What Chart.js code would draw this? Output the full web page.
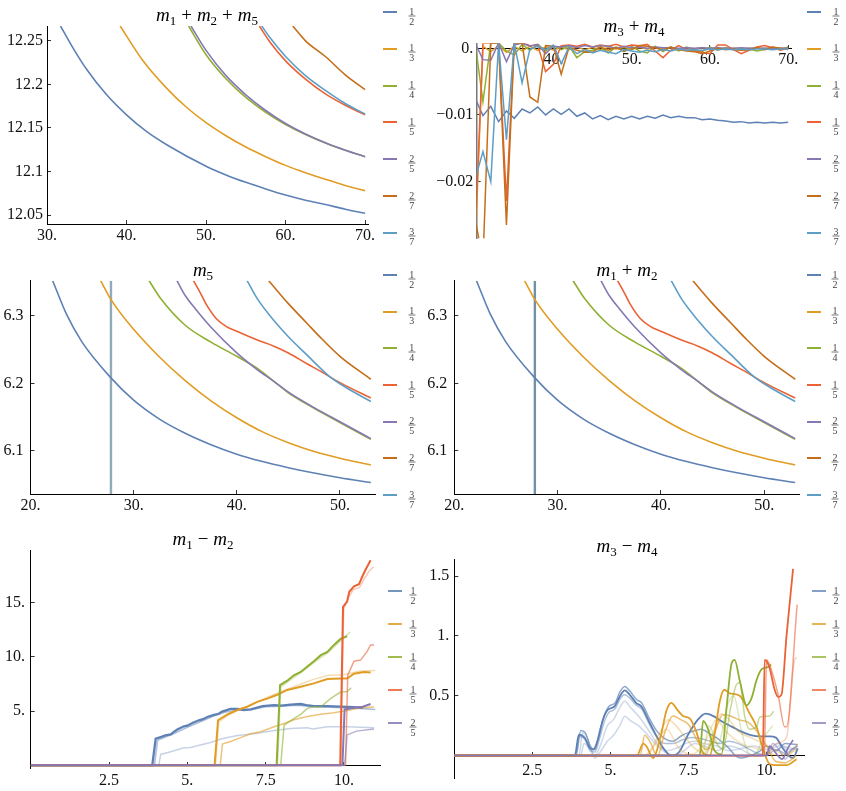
<!DOCTYPE html>
<html>
<head>
<meta charset="utf-8">
<script src="https://cdn.jsdelivr.net/npm/chart.js@4.4.0/dist/chart.umd.min.js"></script>
<style>
  html, body { margin: 0; padding: 0; background: #fff; }
  #page { position: relative; width: 846px; height: 791px; overflow: hidden; font-family: "Liberation Serif", serif; }
  canvas { position: absolute; }
  .title { position: absolute; transform: translate(-50%, -50%); font-size: 19px; white-space: nowrap; color: #000; line-height: 22px; }
  .title sub { font-size: 13px; vertical-align: -4px; line-height: 0; }
  .title .op { margin: 0 5px; }
  .key { position: absolute; width: 14px; }
  .frac { position: absolute; transform: translate(-50%, -50%); font-size: 10px; line-height: 9px; color: #444; text-align: center; }
  .frac span { display: block; padding: 0 1px; }
  .frac span:first-child { border-bottom: 1px solid #777; }
</style>
</head>
<body>
<div id="page">
  <canvas id="c1" width="423" height="255" style="left:0;top:0"></canvas>
  <canvas id="c2" width="423" height="255" style="left:423px;top:0"></canvas>
  <canvas id="c3" width="423" height="265" style="left:0;top:255px"></canvas>
  <canvas id="c4" width="423" height="265" style="left:423px;top:255px"></canvas>
  <canvas id="c5" width="423" height="271" style="left:0;top:520px"></canvas>
  <canvas id="c6" width="423" height="271" style="left:423px;top:520px"></canvas>

  <div class="title" style="left:207px;top:15px"><i>m</i><sub>1</sub><span class="op">+</span><i>m</i><sub>2</sub><span class="op">+</span><i>m</i><sub>5</sub></div>
  <div class="title" style="left:634px;top:26px"><i>m</i><sub>3</sub><span class="op">+</span><i>m</i><sub>4</sub></div>
  <div class="title" style="left:203px;top:270px"><i>m</i><sub>5</sub></div>
  <div class="title" style="left:627px;top:270px"><i>m</i><sub>1</sub><span class="op">+</span><i>m</i><sub>2</sub></div>
  <div class="title" style="left:203px;top:539px"><i>m</i><sub>1</sub><span class="op">&minus;</span><i>m</i><sub>2</sub></div>
  <div class="title" style="left:627px;top:546px"><i>m</i><sub>3</sub><span class="op">&minus;</span><i>m</i><sub>4</sub></div>
</div>
<script>
// series labels (legend fractions) and colours
const fracs = [['1','2'], ['1','3'], ['1','4'], ['1','5'], ['2','5'], ['2','7'], ['3','7']];
const palette = ['#5E81B5', '#E19C24', '#8FB032', '#EB6235', '#8778B3', '#C56E1A', '#5D9EC7'];

// ---- m1 + m2 + m5 : [x, y] points
const tot12 = [[31.7,12.267],[33,12.246],[35,12.217],[37.5,12.188],[40,12.165],[42.5,12.146],[45,12.131],[50,12.106],[52.5,12.096],[55,12.0875],[57.5,12.080],[60,12.073],[62.5,12.067],[65,12.062],[67.5,12.0567],[70,12.052]];
const tot13 = [[39.2,12.267],[42,12.228],[45,12.196],[47.5,12.174],[50,12.156],[52.5,12.141],[55,12.128],[57.5,12.117],[60,12.107],[62.5,12.0986],[65,12.091],[67.5,12.084],[70,12.078]];
const tot14 = [[47.8,12.267],[50,12.234],[52.5,12.2065],[55,12.185],[57.5,12.168],[60,12.154],[62.5,12.1424],[65,12.1326],[67.5,12.1243],[70,12.117]];
const tot15 = [[56.7,12.267],[58,12.249],[60,12.227],[62.5,12.206],[65,12.189],[67.5,12.176],[70,12.165]];
const tot25 = [[48.1,12.267],[50,12.239],[52.5,12.210],[55,12.188],[57.5,12.170],[60,12.155],[62.5,12.143],[65,12.133],[67.5,12.1245],[70,12.117]];
const tot27 = [[60.9,12.267],[62.5,12.250],[65,12.232],[67.5,12.211],[70,12.194]];
const tot37 = [[57.0,12.267],[58,12.254],[60,12.232],[62.5,12.210],[65,12.193],[67.5,12.178],[70,12.166]];

// ---- m3 + m4 : one value per integer x
const m34x = [30,31,32,33,34,35,36,37,38,39,40,41,42,43,44,45,46,47,48,49,50,51,52,53,54,55,56,57,58,59,60,61,62,63,64,65,66,67,68,69,70];
const m34_12 = [-0.0075,-0.0101,-0.0087,-0.0110,-0.0094,-0.0105,-0.0091,-0.0097,-0.0088,-0.0100,
  -0.0091,-0.0099,-0.0091,-0.0102,-0.0097,-0.0106,-0.0101,-0.0107,-0.0102,-0.0106,
  -0.0102,-0.0106,-0.0102,-0.0105,-0.0100,-0.0104,-0.0102,-0.0104,-0.0104,-0.0107,
  -0.0106,-0.0108,-0.0109,-0.0111,-0.0110,-0.0112,-0.0111,-0.0112,-0.0111,-0.0112,-0.0111];
const m34_13 = [-0.0300,0.0003,-0.0005,0.0004,-0.0006,0.0003,-0.0004,0.0003,-0.0003,0.0002,
  -0.0003,0.0002,-0.0002,0.0002,-0.0002,0.0001,-0.0002,0.0001,-0.0001,0.0001,
  -0.0001,0.0001,-0.0001,0.0001,-0.0001,0.0001,-0.0001,0.0001,-0.0001,0.0001,
  -0.0001,0.0000,-0.0001,0.0000,-0.0001,0.0000,0.0000,0.0000,0.0000,0.0000,0.0000];
const m34_14 = [0.0008,-0.0080,0.0008,0.0008,-0.0004,-0.0010,0.0006,-0.0003,0.0006,-0.0004,
  0.0004,-0.0002,0.0003,-0.0014,-0.0005,-0.0003,0.0002,-0.0007,0.0002,-0.0005,
  0.0003,-0.0004,-0.0007,0.0003,-0.0005,0.0002,-0.0004,0.0002,-0.0003,-0.0005,
  0.0002,-0.0003,0.0001,-0.0002,-0.0003,-0.0001,-0.0004,-0.0002,0.0002,-0.0002,0.0002];
const m34_15 = [-0.0280,0.0008,0.0008,0.0008,-0.0229,0.0008,0.0008,0.0004,0.0005,-0.0035,
  -0.0024,0.0004,0.0005,0.0003,0.0006,0.0002,0.0005,0.0003,0.0006,0.0002,
  0.0005,0.0004,0.0006,-0.0004,-0.0014,-0.0003,0.0004,-0.0002,-0.0004,-0.0006,
  -0.0008,0.0005,0.0005,-0.0002,-0.0008,-0.0003,0.0002,0.0004,0.0001,-0.0003,0.0000];
const m34_25 = [0.0008,-0.0017,-0.0018,0.0008,-0.0020,0.0005,0.0008,0.0003,0.0006,-0.0008,
  0.0003,0.0002,0.0004,0.0001,0.0004,0.0002,0.0004,0.0003,0.0000,0.0003,
  0.0001,0.0002,0.0000,0.0002,0.0001,0.0001,0.0000,0.0001,0.0000,0.0001,
  0.0000,0.0001,0.0000,0.0000,0.0001,0.0000,0.0000,0.0000,0.0000,0.0000,0.0000];
const m34_27 = [-0.0255,-0.0320,0.0008,0.0008,-0.0265,0.0008,0.0008,-0.0073,-0.0081,0.0004,
  0.0003,-0.0039,0.0002,-0.0003,-0.0006,-0.0006,0.0002,-0.0003,0.0001,-0.0004,
  -0.0002,0.0004,0.0003,0.0001,-0.0003,0.0002,-0.0002,-0.0004,-0.0005,-0.0008,
  -0.0004,0.0000,-0.0002,-0.0001,-0.0003,-0.0002,0.0001,-0.0002,0.0002,0.0000,-0.0002];
const m34_37 = [-0.0196,-0.0155,-0.0200,0.0008,-0.0137,0.0008,-0.0052,-0.0001,0.0003,-0.0002,
  0.0005,-0.0023,0.0002,-0.0008,-0.0002,-0.0007,-0.0003,-0.0006,-0.0008,-0.0002,
  -0.0004,-0.0006,-0.0003,-0.0005,-0.0002,-0.0004,-0.0001,-0.0003,-0.0002,-0.0003,
  -0.0001,-0.0002,-0.0001,-0.0002,-0.0001,-0.0002,-0.0001,-0.0001,-0.0002,-0.0001,-0.0001];

// ---- m5 (m1 + m2 shows the same curves)
const m5_12 = [[22.15,6.352],[23.5,6.302],[25,6.261],[27.8,6.208],[30,6.175],[32.5,6.147],[35,6.126],[37.5,6.109],[40,6.095],[42.5,6.084],[45,6.075],[47.5,6.067],[50,6.060],[53,6.053]];
const m5_13 = [[26.8,6.352],[27.8,6.324],[30,6.280],[32.5,6.239],[35,6.204],[37.5,6.174],[40,6.149],[42.5,6.128],[45,6.112],[47.5,6.099],[50,6.089],[53,6.079]];
const m5_14 = [[31.5,6.352],[32.6,6.326],[35,6.286],[37.5,6.261],[40,6.240],[42,6.222],[43.5,6.204],[45,6.186],[47.5,6.163],[50,6.142],[53,6.117]];
const m5_15 = [[35.8,6.352],[36.5,6.333],[37,6.318],[38,6.296],[39,6.284],[40,6.277],[42,6.264],[43.6,6.255],[45,6.245],[46.8,6.229],[48.1,6.218],[50,6.201],[53,6.178]];
const m5_25 = [[34.2,6.352],[35,6.330],[36,6.310],[37.5,6.283],[40,6.245],[42,6.220],[43.5,6.204],[45,6.187],[47.5,6.164],[50,6.143],[53,6.118]];
const m5_27 = [[43.1,6.352],[45,6.318],[46.8,6.289],[48.1,6.268],[50,6.240],[53,6.206]];
const m5_37 = [[41.0,6.352],[42,6.325],[43.6,6.293],[45,6.269],[46.8,6.242],[49,6.210],[51,6.190],[53,6.173]];
const m5Mark = [[27.8,6.036],[27.8,6.352]];

// ---- m1 - m2 (several runs per fraction: a, b, c)
const d12_12a = [[0,0],[3.88,0],[3.99,2.45],[4.15,2.6],[4.3,2.75],[4.47,2.85],[4.58,3.1],[4.68,3.3],[4.89,3.6],[5.0,3.65],[5.16,3.9],[5.37,4.15],[5.5,4.25],[5.64,4.45],[5.85,4.65],[6.0,4.75],[6.11,4.95],[6.38,5.2],[6.6,5.2],[6.8,5.1],[7.02,5.15],[7.2,5.3],[7.4,5.45],[7.77,5.55],[8.0,5.5],[8.3,5.6],[8.62,5.65],[8.8,5.55],[9.04,5.45],[9.47,5.45],[9.89,5.4],[10.32,5.35],[10.6,5.3]];
const d12_12b = [[0,0],[3.95,0],[4.05,2.3],[4.3,2.6],[4.6,2.95],[5.0,3.5],[5.4,4.0],[5.8,4.5],[6.2,4.9],[6.6,5.1],[7.0,5.1],[7.5,5.4],[8.0,5.45],[8.5,5.55],[9.0,5.4],[9.5,5.35],[10.0,5.3],[10.5,5.25],[11.0,5.15]];
const d12_12c = [[0,0],[4.09,0],[4.15,1.0],[4.47,1.25],[4.89,1.62],[5.1,1.65],[5.32,1.8],[5.74,2.1],[6.0,2.35],[6.17,2.5],[6.6,2.75],[7.13,2.9],[7.77,3.2],[8.3,3.4],[8.83,3.45],[9.0,3.35],[9.47,3.55],[10.1,3.55],[10.96,3.47]];
const d12_13a = [[0,0],[5.87,0],[5.98,4.15],[6.28,4.7],[6.6,5.1],[6.91,5.4],[7.23,5.85],[7.55,6.15],[7.87,6.5],[8.19,6.95],[8.62,7.25],[9.04,7.55],[9.47,7.95],[9.89,8.0],[10.1,8.0],[10.32,8.45],[10.64,8.6],[10.85,8.55]];
const d12_13b = [[0,0],[5.9,0],[6.0,4.0],[6.3,4.6],[6.7,5.2],[7.0,5.5],[7.5,6.2],[8.0,6.8],[8.5,7.35],[9.0,7.9],[9.5,8.3],[10.0,8.35],[10.5,8.7],[11.0,8.75]];
const d12_13c = [[0,0],[6.05,0],[6.12,1.95],[6.38,2.2],[6.7,2.55],[7.02,2.9],[7.34,3.1],[7.77,3.55],[8.09,3.85],[8.4,4.2],[8.83,4.5],[9.26,4.7],[9.68,4.85],[10.1,5.05],[10.53,5.3],[10.96,5.37]];
const d12_14a = [[0,0],[7.85,0],[7.96,7.4],[8.19,7.8],[8.4,8.3],[8.62,8.6],[8.83,9.1],[9.04,9.6],[9.26,10.15],[9.47,10.45],[9.68,11.1],[9.89,11.65],[10.1,11.9]];
const d12_14b = [[0,0],[7.88,0],[7.98,7.2],[8.3,7.9],[8.7,8.7],[9.1,9.6],[9.5,10.4],[9.9,11.5],[10.2,12.3]];
const d12_14c = [[0,0],[7.98,0],[8.09,3.7],[8.4,4.3],[8.62,4.7],[8.83,5.25],[9.04,5.4],[9.26,5.4],[9.57,6.15],[9.89,6.75],[10.1,6.8],[10.23,7.15]];
const d12_15a = [[0,0],[9.88,0],[9.97,14.6],[10.1,15.1],[10.17,16.0],[10.32,16.5],[10.48,16.7],[10.6,17.5],[10.7,18.1],[10.85,18.9]];
const d12_15b = [[0,0],[9.9,0],[9.99,14.4],[10.15,15.5],[10.3,16.2],[10.5,16.4],[10.65,17.2],[10.8,17.9],[10.95,18.3]];
const d12_15c = [[0,0],[10.05,0],[10.12,8.3],[10.32,9.6],[10.53,9.7],[10.74,10.5],[10.85,11.1],[10.96,11.1]];
const d12_25a = [[0,0],[9.95,0],[10.02,5.15],[10.32,5.3],[10.6,5.4],[10.85,5.65]];
const d12_25b = [[0,0],[10.02,0],[10.1,2.8],[10.4,3.15],[10.96,3.35]];

// ---- m3 - m4
const d34_12a = [[0,0],[3.86,0],[3.99,0.175],[4.18,0.147],[4.34,0.064],[4.45,0.05],[4.6,0.133],[4.76,0.3],[4.92,0.383],[5.13,0.41],[5.3,0.494],[5.46,0.545],[5.62,0.508],[5.83,0.439],[5.99,0.411],[6.26,0.272],[6.48,0.161],[6.7,0.06],[6.95,0.0],[7.2,0.03],[7.5,0.18],[7.8,0.3],[8.05,0.35],[8.3,0.33],[8.6,0.28],[8.9,0.24],[9.2,0.2],[9.5,0.17],[9.8,0.16],[10.1,0.16],[10.3,0.15],[10.5,0.07],[10.7,0.0],[10.85,-0.02],[11.0,0.06]];
const d34_12b = [[0,0],[3.9,0],[4.05,0.21],[4.2,0.19],[4.35,0.08],[4.5,0.05],[4.65,0.2],[4.8,0.33],[4.95,0.41],[5.15,0.44],[5.3,0.53],[5.46,0.578],[5.62,0.54],[5.83,0.47],[6.0,0.44],[6.25,0.31],[6.5,0.2],[6.75,0.14],[7.0,0.12],[7.3,0.17],[7.6,0.2],[7.9,0.22],[8.2,0.18],[8.5,0.13],[8.8,0.06],[9.0,0.0],[9.2,-0.02],[9.5,0.0],[9.8,0.04],[10.0,0.08],[10.3,0.04],[10.6,0.1],[11.0,0.09]];
const d34_12c = [[0,0],[3.88,0],[4.0,0.16],[4.2,0.13],[4.35,0.04],[4.5,0.03],[4.65,0.14],[4.8,0.28],[4.95,0.36],[5.15,0.39],[5.3,0.47],[5.46,0.508],[5.62,0.48],[5.83,0.42],[6.0,0.39],[6.25,0.26],[6.5,0.15],[6.75,0.1],[7.0,0.1],[7.3,0.13],[7.6,0.15],[7.9,0.14],[8.2,0.12],[8.5,0.1],[8.8,0.12],[9.1,0.1],[9.4,0.06],[9.7,0.02],[10.0,0.0],[10.3,0.05],[10.6,0.02],[11.0,0.08]];
const d34_12d = [[0,0],[4.0,0],[4.1,0.19],[4.25,0.15],[4.5,0.0],[4.7,0.1],[4.9,0.25],[5.1,0.3],[5.3,0.4],[5.46,0.453],[5.65,0.4],[5.9,0.33],[6.2,0.22],[6.5,0.1],[6.8,0.04],[7.1,0.06],[7.4,0.1],[7.7,0.12],[8.0,0.1],[8.4,0.08],[8.8,0.04],[9.2,0.06],[9.6,0.08],[10.0,0.05],[10.4,0.1],[10.7,0.05],[11.0,0.06]];
const d34_12e = [[0,0],[4.05,0],[4.15,0.1],[4.35,0.05],[4.5,-0.02],[4.7,0.04],[4.9,0.12],[5.1,0.17],[5.3,0.25],[5.46,0.328],[5.65,0.29],[5.9,0.25],[6.2,0.17],[6.5,0.08],[6.8,0.02],[7.1,0.0],[7.4,0.05],[7.7,0.1],[8.0,0.08],[8.4,0.04],[8.8,0.08],[9.2,0.05],[9.6,0.0],[10.0,0.03],[10.4,0.08],[11.0,0.05]];
const d34_13a = [[0,0],[5.85,0],[6.05,0.1],[6.15,0.08],[6.37,-0.02],[6.6,0.15],[6.8,0.38],[6.95,0.44],[7.15,0.38],[7.33,0.33],[7.54,0.31],[7.75,0.2],[7.97,0.02],[8.18,0.0],[8.35,0.2],[8.5,0.45],[8.65,0.55],[8.82,0.52],[9.14,0.5],[9.46,0.35],[9.68,0.24],[9.89,0.05],[10.1,-0.07],[10.3,-0.08],[10.64,-0.08],[10.96,-0.03]];
const d34_13b = [[0,0],[5.95,0],[6.1,0.17],[6.3,0.1],[6.5,-0.01],[6.75,0.2],[7.0,0.33],[7.25,0.3],[7.5,0.26],[7.8,0.12],[8.1,0.05],[8.35,0.2],[8.6,0.34],[8.85,0.33],[9.1,0.3],[9.4,0.28],[9.7,0.2],[10.0,0.08],[10.3,-0.05],[10.6,-0.06],[10.96,0.0]];
const d34_13c = [[0,0],[6.05,0],[6.3,0.05],[6.6,0.2],[6.85,0.3],[7.1,0.25],[7.4,0.15],[7.7,0.06],[8.0,0.02],[8.3,0.2],[8.55,0.35],[8.8,0.3],[9.1,0.2],[9.5,0.15],[9.9,0.1],[10.3,0.04],[10.7,0.0],[11.0,0.1]];
const d34_13d = [[0,0],[6.15,0],[6.45,0.1],[6.8,0.22],[7.2,0.06],[7.6,0.01],[8.0,0.1],[8.4,0.3],[8.7,0.2],[9.2,0.1],[9.8,0.05],[10.4,0.0],[11.0,0.05]];
const d34_14a = [[0,0],[7.86,0],[7.97,0.29],[8.13,0.22],[8.34,0.04],[8.56,0.01],[8.72,0.4],[8.88,0.77],[8.98,0.8],[9.14,0.63],[9.36,0.42],[9.52,0.48],[9.68,0.63],[9.84,0.72],[10.05,0.74],[10.15,0.76]];
const d34_14b = [[0,0],[8.02,0],[8.3,0.12],[8.6,0.05],[8.85,0.4],[9.03,0.59],[9.14,0.61],[9.3,0.33],[9.46,0.22],[9.68,0.24],[9.78,0.32],[10.1,0.33],[10.23,0.37]];
const d34_14c = [[0,0],[7.95,0],[8.15,0.25],[8.45,0.1],[8.75,0.42],[8.95,0.5],[9.2,0.2],[9.4,0.03],[9.6,0.0],[9.9,0.15],[10.2,0.25]];
const d34_15a = [[0,0],[9.88,0],[9.94,0.8],[10.0,0.79],[10.1,0.73],[10.26,0.55],[10.37,0.49],[10.48,0.51],[10.64,1.0],[10.85,1.56]];
const d34_15b = [[0,0],[9.93,0],[10.0,0.8],[10.15,0.72],[10.37,0.51],[10.58,0.24],[10.64,0.24],[10.98,1.26]];
const d34_15c = [[0,0],[10.0,0],[10.3,0.1],[10.64,0.15],[10.9,0.8],[10.98,0.82]];
const d34_25a = [[0,0],[10.0,0],[10.1,0.08],[10.3,0.02],[10.5,-0.03],[10.7,0.07],[10.85,0.13]];
const d34_25b = [[0,0],[10.0,0],[10.2,0.1],[10.4,0.05],[10.6,-0.03],[10.8,0.05],[10.98,0.08]];

const page = document.getElementById('page');

function rgba(hex, a) {
    const n = parseInt(hex.slice(1), 16);
    return 'rgba(' + (n >> 16) + ',' + ((n >> 8) & 255) + ',' + (n & 255) + ',' + a + ')';
}

// Mathematica style labels: "30.", "12.1", "−0.01"
function mfmt(v) {
    let s = String(parseFloat(v.toFixed(6)));
    if (s.indexOf('.') < 0) s += '.';
    return s.replace('-', '\u2212');
}

function ser(data, color, w, a, smooth) {
    return {
        data: data,
        borderColor: rgba(color, a),
        borderWidth: w,
        pointRadius: 0,
        fill: false,
        tension: 0,
        cubicInterpolationMode: smooth ? 'monotone' : 'default'
    };
}

function axis(min, max, step, o) {
    return {
        type: 'linear',
        min: min,
        max: max,
        position: o.position,
        border: { color: '#000', width: 1 },
        grid: { drawOnChartArea: false, tickLength: -4, color: '#333' },
        ticks: {
            stepSize: step,
            includeBounds: false,
            autoSkip: false,
            maxRotation: 0,
            padding: o.pad,
            color: '#111',
            font: { family: 'Liberation Serif', size: 16 },
            callback: v => (o.hideZero && Math.abs(v) < 1e-9) ? null : mfmt(v)
        },
        afterFit: s => {
            s.paddingLeft = s.paddingRight = s.paddingTop = s.paddingBottom = 0;
            if (o.size != null) {
                if (s.isHorizontal()) s.height = o.size; else s.width = o.size;
            }
        }
    };
}

function draw(id, datasets, x, y, pad) {
    datasets.forEach((d, i) => { d.order = -i; });   // later series on top
    new Chart(document.getElementById(id), {
        type: 'line',
        data: { datasets: datasets },
        options: {
            responsive: false,
            animation: false,
            events: [],
            layout: { padding: pad },
            plugins: { legend: { display: false }, tooltip: { enabled: false } },
            scales: { x: x, y: y }
        }
    });
}

function legend(xLine, xFrac, y0, dy, n, lw, a) {
    for (let i = 0; i < n; i++) {
        const y = y0 + i * dy;
        const k = document.createElement('div');
        k.className = 'key';
        k.style.left = xLine + 'px';
        k.style.top = (y - lw / 2) + 'px';
        k.style.height = lw + 'px';
        k.style.background = rgba(palette[i], a);
        page.appendChild(k);
        const f = document.createElement('div');
        f.className = 'frac';
        f.style.left = xFrac + 'px';
        f.style.top = (y + 3.5) + 'px';
        f.innerHTML = '<span>' + fracs[i][0] + '</span><span>' + fracs[i][1] + '</span>';
        page.appendChild(f);
    }
}

const [c1, c2, c3, c4, c5, c6, c7] = palette;

// m1 + m2 + m5
draw('c1',
    [tot12, tot13, tot14, tot15, tot25, tot27, tot37].map((d, i) => ser(d, palette[i], 1.6, 1, true)),
    axis(30, 70.4, 10, { position: 'bottom', pad: 6, size: 31 }),
    axis(12.0397, 12.267, 0.05, { position: 'left', pad: 8, size: 47 }),
    { top: 26, right: 54.7, bottom: 0, left: 0 });

// m3 + m4
const m34 = [m34_12, m34_13, m34_14, m34_15, m34_25, m34_27, m34_37];
const m34Axis = axis(-0.0285, 0.00075, 0.01, { position: 'left', pad: 7.4, size: 53.7 });
m34Axis.border = { color: '#777', width: 1.5 };
draw('c2',
    m34.map((vals, i) => ser(m34x.map((x, j) => [x, vals[j]]), palette[i], 1.5, 1, false)),
    axis(30.2, 70.45, 10, { position: { y: 0 }, pad: 6 }),
    m34Axis,
    { top: 43.3, right: 54.3, bottom: 16.7, left: 0 });

// m5 and m1 + m2
const m5 = [m5_12, m5_13, m5_14, m5_15, m5_25, m5_27, m5_37];
function midRow(id, markColor, yw, right) {
    const ds = m5.map((d, i) => ser(d, palette[i], 1.6, 1, true));
    ds.unshift(ser(m5Mark, markColor, 2.4, 1, false));
    draw(id, ds,
        axis(20, 53.4, 10, { position: 'bottom', pad: 6, size: 26 }),
        axis(6.036, 6.352, 0.1, { position: 'left', pad: 11, size: yw }),
        { top: 25.7, right: right, bottom: 0, left: 0 });
}
midRow('c3', '#93aabb', 30.5, 48);
midRow('c4', '#7290a6', 31.3, 46.7);

// m1 - m2
draw('c5', [
        ser(d12_12c, c1, 1.5, 0.35), ser(d12_12b, c1, 1.6, 0.5), ser(d12_12a, c1, 2.3, 1),
        ser(d12_13c, c2, 1.5, 0.6), ser(d12_13b, c2, 1.5, 0.35), ser(d12_13a, c2, 2, 1),
        ser(d12_14c, c3, 1.5, 0.6), ser(d12_14b, c3, 1.5, 0.35), ser(d12_14a, c3, 2, 1),
        ser(d12_15c, c4, 1.5, 0.6), ser(d12_15b, c4, 1.5, 0.35), ser(d12_15a, c4, 2, 1),
        ser(d12_25b, c5, 1.5, 0.6), ser(d12_25a, c5, 2, 1)
    ],
    axis(0, 11.15, 2.5, { position: { y: 0 }, pad: 10, hideZero: true }),
    axis(-0.25, 19.85, 5, { position: 'left', pad: 9.7, size: 30.7, hideZero: true }),
    { top: 30, right: 43, bottom: 23, left: 0 });

// m3 - m4
draw('c6', [
        ser(d34_12e, c1, 1.5, 0.3, true), ser(d34_12d, c1, 1.5, 0.3, true), ser(d34_12c, c1, 1.5, 0.5, true),
        ser(d34_12b, c1, 1.5, 0.7, true), ser(d34_12a, c1, 1.8, 1, true),
        ser(d34_13d, c2, 1.5, 0.3, true), ser(d34_13c, c2, 1.5, 0.35, true), ser(d34_13b, c2, 1.5, 0.65, true),
        ser(d34_13a, c2, 1.8, 1, true),
        ser(d34_14c, c3, 1.5, 0.3, true), ser(d34_14b, c3, 1.5, 0.5, true), ser(d34_14a, c3, 1.8, 1, true),
        ser(d34_15c, c4, 1.5, 0.3, true), ser(d34_15b, c4, 1.5, 0.6, true), ser(d34_15a, c4, 1.8, 1, true),
        ser(d34_25b, c5, 1.5, 0.5, true), ser(d34_25a, c5, 1.6, 1, true)
    ],
    axis(0, 11.2, 2.5, { position: { y: 0 }, pad: 10, hideZero: true }),
    axis(-0.19, 1.64, 0.5, { position: 'left', pad: 9, size: 31.3, hideZero: true }),
    { top: 39.3, right: 42, bottom: 12.7, left: 0 });

legend(383, 411.7, 12, 36.8, 7, 2, 1);
legend(807, 836, 12, 36.8, 7, 2, 1);
legend(383, 411.7, 275, 36.67, 7, 2, 1);
legend(807, 835, 275, 36.67, 7, 2, 1);
legend(388, 413, 591, 33, 5, 2.6, 0.85);
legend(812, 836, 591, 33, 5, 2.6, 0.75);
</script>
</body>
</html>
